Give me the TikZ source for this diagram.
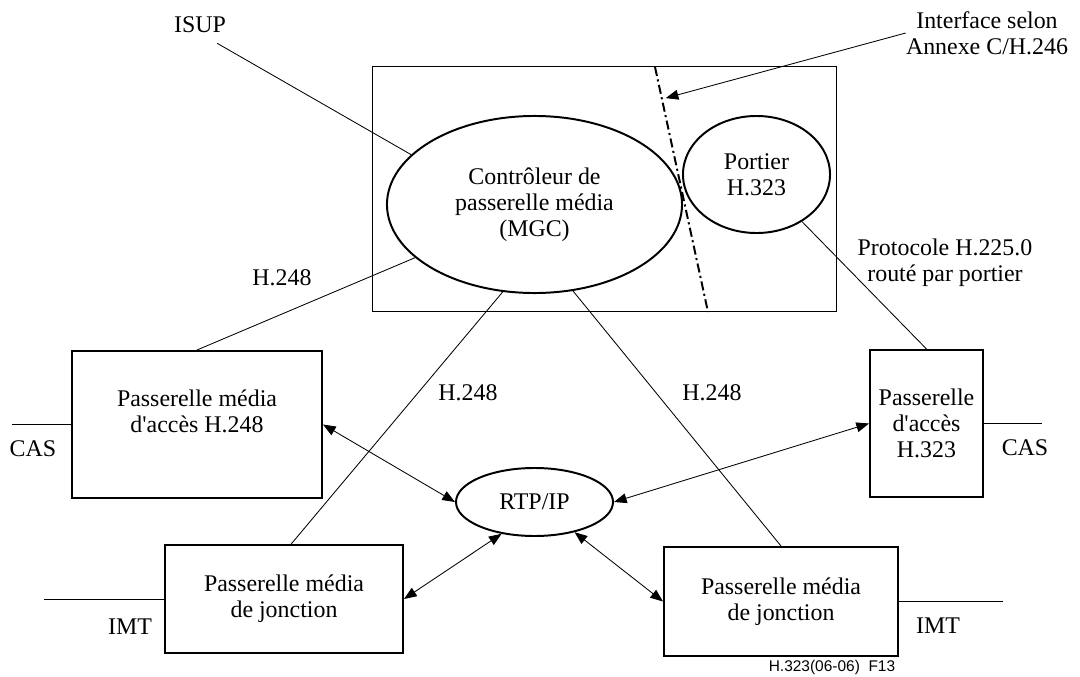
\documentclass[tikz,border=0pt]{standalone}
\usepackage{fontspec}
\setmainfont{Liberation Serif}
\newfontfamily\figfont{Liberation Sans}
\usepackage{tikz}
\usetikzlibrary{shapes.geometric, arrows.meta, positioning, calc}
\tikzset{
    font=\fontsize{17}{18.5}\selectfont,
    gwbox/.style={rectangle, draw, line width=1.4pt, align=center, inner sep=0pt},
    ctrl/.style={ellipse, draw, line width=1.4pt, align=center, inner sep=0pt},
    ctrlframe/.style={rectangle, draw, line width=0.7pt, inner sep=0pt},
    link/.style={line width=0.6pt},
    media/.style={{Triangle[length=9pt,width=7pt]}-{Triangle[length=9pt,width=7pt]}, line width=0.6pt},
    pointer/.style={-{Triangle[length=9pt,width=7pt]}, line width=0.6pt},
    iface/.style={line width=1.4pt, dash pattern=on 6.5pt off 2.5pt on 1.5pt off 2.5pt},
    label_text/.style={align=center, inner sep=0pt}
}

\begin{document}
\begin{tikzpicture}[x=0.025cm, y=-0.025cm]
    \useasboundingbox (0,0) rectangle (1080,677);

    \node (mgcframe) [ctrlframe, minimum width=11.575cm, minimum height=6.1cm] at (604.5,189) {};
    \node (mgc) [ctrl, minimum width=7.375cm, minimum height=4.425cm] at (534.5,204.5) {Contrôleur de\\passerelle média\\(MGC)};
    \node (gk)  [ctrl, minimum width=3.675cm, minimum height=2.925cm] at (756.5,174.5) {Portier\\H.323};
    \node (rtp) [ctrl, minimum width=3.925cm, minimum height=1.7cm] at (534.5,502) {RTP/IP};

    \node (acc248) [gwbox, minimum width=6.25cm, minimum height=3.675cm] at (197,424.5) {Passerelle média\\d\textquotesingle accès H.248\\\mbox{}};
    \node (acc323) [gwbox, minimum width=2.825cm, minimum height=3.675cm] at (926.5,423.5) {Passerelle\\d\textquotesingle accès\\H.323};
    \node (jonct1) [gwbox, minimum width=5.95cm, minimum height=2.7cm] at (284,599) {Passerelle média\\de jonction};
    \node (jonct2) [gwbox, minimum width=5.85cm, minimum height=2.725cm] at (781,601.5) {Passerelle média\\de jonction};

    \node (isup)     [label_text] at (200,25) {ISUP};
    \node (ifacetxt) [label_text] at (987,33) {Interface selon\\Annexe C/H.246};
    \node (h248a)    [label_text] at (282,278) {H.248};
    \node (h248b)    [label_text] at (468,393) {H.248};
    \node (h248c)    [label_text] at (712,393) {H.248};
    \node (h225)     [label_text] at (945,263) {Protocole H.225.0\\routé par portier};
    \node (casL)     [label_text] at (33,449) {CAS};
    \node (casR)     [label_text] at (1025,448) {CAS};
    \node (imtL)     [label_text] at (130,627) {IMT};
    \node (imtR)     [label_text] at (938,626) {IMT};
    \node (figref)   [label_text, font={\figfont\fontsize{11}{13}\selectfont}] at (832,667) {H.323(06-06)\ \ F13};

    \coordinate (splittop) at (655,67);
    \coordinate (splitbot) at (708,312);
    \coordinate (casLend) at (12,424.5);
    \coordinate (casRend) at (1042,423.5);
    \coordinate (imtLend) at (44,599);
    \coordinate (imtRend) at (1003,601.5);

    \draw [iface] (splittop) -- (splitbot);
    \draw [pointer] (ifacetxt.west) -- ($(splittop)!0.127!(splitbot)+(4,0)$);

    \draw [link] (isup.south east) ++(-9,10) -- (mgc.158);
    \draw [link] (mgc.204) -- (acc248.north);
    \draw [link] (mgc.250) -- ($(jonct1.north west)!0.53!(jonct1.north east)$);
    \draw [link] (mgc.294) -- (jonct2.north);
    \draw [link] (gk.314) -- (acc323.north);

    \draw [link] (casLend) -- (acc248.west);
    \draw [link] (acc323.east) -- (casRend);
    \draw [link] (imtLend) -- (jonct1.west);
    \draw [link] (jonct2.east) -- (imtRend);

    \draw [media] (acc248.east) -- (rtp.west);
    \draw [media] (acc323.west) -- (rtp.east);
    \draw [media] (jonct1.east) -- (rtp.224);
    \draw [media] (jonct2.west) -- (rtp.323);

\end{tikzpicture}
\end{document}
